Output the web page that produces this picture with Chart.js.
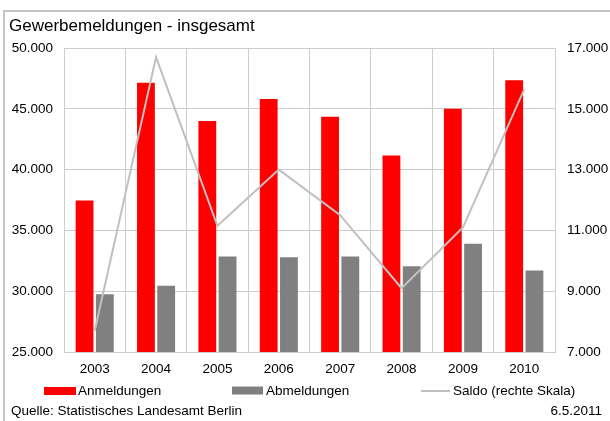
<!DOCTYPE html>
<html lang="de">
<head>
<meta charset="utf-8">
<title>Gewerbemeldungen - insgesamt</title>
<script src="https://cdn.jsdelivr.net/npm/chart.js@4.4.1/dist/chart.umd.min.js"></script>
<style>
  html, body { margin: 0; padding: 0; background: #ffffff; }
  #wrap { position: relative; width: 610px; height: 421px; }
  canvas { display: block; }
</style>
</head>
<body>
<div id="wrap"><canvas id="chart" width="610" height="421"></canvas></div>
<script>
// Gewerbeanzeigen in Berlin, 2003–2010
const years = ['2003', '2004', '2005', '2006', '2007', '2008', '2009', '2010'];
const anmeldungen = [37450, 47150, 44000, 45800, 44350, 41150, 45000, 47350];
const abmeldungen = [29750, 30450, 32850, 32800, 32850, 32050, 33900, 31700];
const saldo = [7700, 16700, 11150, 13000, 11500, 9100, 11100, 15650];

const titleText = 'Gewerbemeldungen - insgesamt';
const legendLabels = ['Anmeldungen', 'Abmeldungen', 'Saldo (rechte Skala)'];
const sourceText = 'Quelle: Statistisches Landesamt Berlin';
const dateText = '6.5.2011';

const FONT = '"Liberation Sans", Arial, sans-serif';
const RED = '#ff0000';
const GREY = '#808080';
const LINE = '#c0c0c0';
const GRID = '#cccccc';

// German thousands separator: 50000 -> "50.000"
function fmt(v) {
  return String(Math.round(v)).replace(/\B(?=(\d{3})+(?!\d))/g, '.');
}

// Frame, heading, legend and source note around the plot
const decorations = {
  id: 'decorations',
  afterDraw(chart) {
    const ctx = chart.ctx;
    ctx.save();
    // frame (top and left edges)
    ctx.strokeStyle = '#c4c4c4';
    ctx.lineWidth = 2;
    ctx.beginPath();
    ctx.moveTo(610, 11);
    ctx.lineTo(4, 11);
    ctx.lineTo(4, 421);
    ctx.stroke();

    ctx.fillStyle = '#000000';
    ctx.textBaseline = 'alphabetic';
    ctx.textAlign = 'left';
    ctx.font = '17px ' + FONT;
    ctx.fillText(titleText, 9, 31);

    // legend
    ctx.font = '13.5px ' + FONT;
    ctx.textBaseline = 'middle';
    ctx.fillStyle = RED;
    ctx.fillRect(44, 387, 32, 8);
    ctx.fillStyle = '#000000';
    ctx.fillText(legendLabels[0], 78, 391);

    ctx.fillStyle = GREY;
    ctx.fillRect(232, 386.5, 31, 8);
    ctx.fillStyle = '#000000';
    ctx.fillText(legendLabels[1], 266, 391);

    ctx.strokeStyle = LINE;
    ctx.lineWidth = 2;
    ctx.beginPath();
    ctx.moveTo(421, 391);
    ctx.lineTo(450, 391);
    ctx.stroke();
    ctx.fillText(legendLabels[2], 453, 391);

    // source and date
    ctx.fillText(sourceText, 11, 411);
    ctx.textAlign = 'right';
    ctx.fillText(dateText, 602, 411);
    ctx.restore();
  }
};

new Chart(document.getElementById('chart'), {
  type: 'bar',
  data: {
    labels: years,
    datasets: [
      {
        type: 'line',
        label: legendLabels[2],
        data: saldo,
        yAxisID: 'y1',
        borderColor: LINE,
        borderWidth: 2,
        pointRadius: 0,
        tension: 0,
        fill: false,
        order: 0
      },
      {
        label: legendLabels[0],
        data: anmeldungen,
        yAxisID: 'y',
        backgroundColor: RED,
        borderWidth: 0,
        categoryPercentage: 0.66,
        barPercentage: 0.88,
        order: 1
      },
      {
        label: legendLabels[1],
        data: abmeldungen,
        yAxisID: 'y',
        backgroundColor: GREY,
        borderWidth: 0,
        categoryPercentage: 0.66,
        barPercentage: 0.88,
        order: 2
      }
    ]
  },
  options: {
    responsive: false,
    animation: false,
    devicePixelRatio: 1,
    layout: { padding: { left: 0, right: 0, top: 48, bottom: 0 } },
    plugins: {
      legend: { display: false },
      title: { display: false },
      tooltip: { enabled: false }
    },
    scales: {
      x: {
        grid: { color: GRID, lineWidth: 1, drawTicks: false, offset: true },
        border: { display: true, color: GRID, width: 1 },
        ticks: { color: '#000000', font: { family: FONT, size: 13.5 }, padding: 9, maxRotation: 0 },
        afterFit(scale) { scale.height = 69; }
      },
      y: {
        position: 'left',
        min: 25000,
        max: 50000,
        grid: { color: GRID, lineWidth: 1, drawTicks: false },
        border: { display: true, color: GRID, width: 1 },
        ticks: {
          stepSize: 5000,
          color: '#000000',
          font: { family: FONT, size: 13.5 },
          padding: 11,
          callback: v => fmt(v)
        },
        afterFit(scale) { scale.width = 64; }
      },
      y1: {
        position: 'right',
        min: 7000,
        max: 17000,
        grid: { drawOnChartArea: false, drawTicks: false },
        border: { display: true, color: GRID, width: 1 },
        ticks: {
          stepSize: 2000,
          color: '#000000',
          font: { family: FONT, size: 13.5 },
          padding: 12,
          callback: v => fmt(v)
        },
        afterFit(scale) { scale.width = 55; }
      }
    }
  },
  plugins: [decorations]
});
</script>
</body>
</html>
